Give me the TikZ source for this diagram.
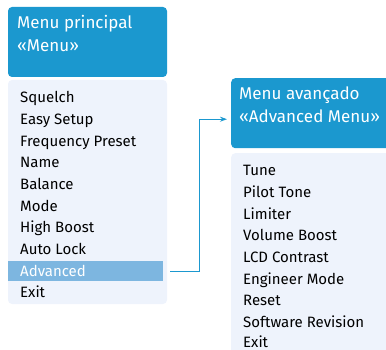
\documentclass[tikz,border=0pt]{standalone}
\usepackage{fontspec}
\setmainfont{Fira Sans}
\usepackage{tikz}
\usetikzlibrary{arrows.meta, positioning}
\definecolor{headblue}{HTML}{1B98CF}
\definecolor{listbg}{HTML}{EEF3FC}
\definecolor{selblue}{HTML}{7DB6E0}

\tikzset{
  headbox/.style={fill=headblue, rounded corners=4pt, inner sep=0pt},
  listbox/.style={fill=listbg, rounded corners=4pt, inner sep=0pt},
  headtext/.style={text=white, align=left, inner sep=0pt, font=\fontsize{17}{23}\selectfont},
  item/.style={anchor=base west, inner sep=0pt, font=\fontsize{15}{18}\selectfont},
  selbox/.style={fill=selblue, inner sep=0pt},
  link/.style={draw=headblue, line width=1pt, -{Stealth[length=7pt, width=5pt]}}
}

\begin{document}
\begin{tikzpicture}[x=1pt, y=-1pt]
\useasboundingbox (0,0) rectangle (386,350);
\clip (0,0) rectangle (386,350);

% main menu
\node[headbox, minimum width=159pt, minimum height=70pt] (mainhead) at (87.5,42) {};
\node[headtext, anchor=base west] (maintitle) at (17,52) {Menu principal\\«Menu»};
\node[listbox, minimum width=159pt, minimum height=224pt] (mainlist) at (87.5,192) {};
\node[selbox, minimum width=155pt, minimum height=20pt] (advsel) at (85.5,271) {};
\node[item] (squelch) at (20,103) {Squelch};
\node[item] (easy) at (20,124.7) {Easy Setup};
\node[item] (freq) at (20,146.3) {Frequency Preset};
\node[item] (name) at (20,168) {Name};
\node[item] (balance) at (20,189.7) {Balance};
\node[item] (mode) at (20,211.3) {Mode};
\node[item] (highboost) at (20,233) {High Boost};
\node[item] (autolock) at (20,254.7) {Auto Lock};
\node[item, text=white] (advanced) at (20,276.3) {Advanced};
\node[item] (exit1) at (20,298) {Exit};

% advanced menu
\node[headbox, minimum width=170pt, minimum height=70pt, anchor=north west] (advhead) at (231,78) {};
\node[headtext, anchor=base west] (advtitle) at (239,123) {Menu avançado\\«Advanced Menu»};
\node[listbox, minimum width=170pt, minimum height=220pt, anchor=north west] (advlist) at (231,153) {};
\node[item] (tune) at (243,176) {Tune};
\node[item] (pilot) at (243,197.6) {Pilot Tone};
\node[item] (limiter) at (243,219.2) {Limiter};
\node[item] (volboost) at (243,240.8) {Volume Boost};
\node[item] (lcd) at (243,262.4) {LCD Contrast};
\node[item] (engineer) at (243,284) {Engineer Mode};
\node[item] (reset) at (243,305.6) {Reset};
\node[item] (software) at (243,327.2) {Software Revision};
\node[item] (exit2) at (243,347) {Exit};

\draw[link, shorten <=7pt, shorten >=4pt] (advsel.east) -- ++(36,0) |- ([yshift=-6pt]advhead.west);
\end{tikzpicture}
\end{document}
